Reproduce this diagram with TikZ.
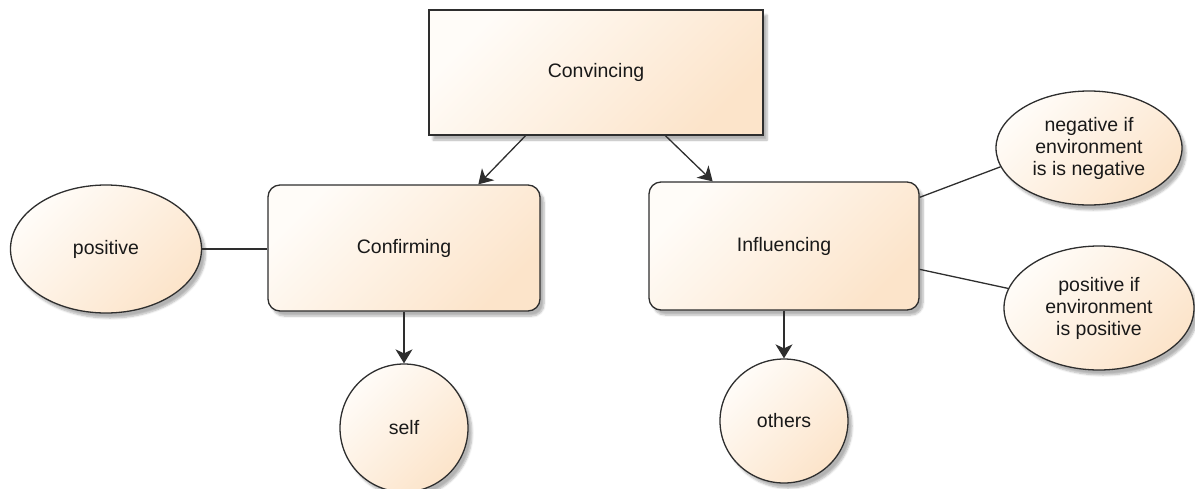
\documentclass[tikz,border=0pt]{standalone}
\usepackage{fontspec}
\setmainfont{Liberation Sans}
\usetikzlibrary{arrows.meta,shapes.geometric,shadows.blur,calc}
\definecolor{peachA}{HTML}{FFFCF8}
\definecolor{peachB}{HTML}{FCE4CA}
\definecolor{edge}{HTML}{2E2E2E}
\begin{document}
\begin{tikzpicture}[x=1pt,y=-1pt,
  base/.style={draw=edge, line width=1.3pt, top color=peachA, bottom color=peachB, shading angle=45,
    inner sep=0pt, align=center, text=black!90, font=\fontsize{19.5}{22}\selectfont,
    blur shadow={shadow xshift=4pt, shadow yshift=-5pt, shadow blur steps=6, shadow opacity=30}},
  sqbox/.style={base, rectangle},
  rbox/.style={base, rectangle, rounded corners=12pt},
  oval/.style={base, ellipse},
  link/.style={draw=edge, line width=1.3pt},
  arr/.style={link, -{Stealth[length=14pt,width=17pt,inset=4pt]}}]
\useasboundingbox (0,0) rectangle (1195,488);

\node[sqbox, minimum width=334pt, minimum height=125pt] (conv) at (596,72.5) {Convincing};
\node[rbox, minimum width=272pt, minimum height=126pt] (conf) at (404,248) {Confirming};
\node[rbox, minimum width=270pt, minimum height=128pt] (infl) at (784,246) {Influencing};
\node[oval, minimum width=191pt, minimum height=128pt] (pos) at (106,249) {positive};
\node[oval, minimum width=128pt, minimum height=128pt] (self) at (404,428) {self};
\node[oval, minimum width=128pt, minimum height=124pt] (oth) at (784,421) {others};
\node[oval, minimum width=186pt, minimum height=114pt] (neg) at (1089,148) {negative if\\environment\\is is negative};
\node[oval, minimum width=190pt, minimum height=124pt] (posif) at (1099,308) {positive if\\environment\\is positive};

\draw[arr] ($(conv.south west)!0.29!(conv.south east)$) -- ($(conf.north west)!0.772!(conf.north east)$);
\draw[arr] ($(conv.south west)!0.707!(conv.south east)$) -- ($(infl.north west)!0.237!(infl.north east)$);
\draw[link] (pos.east) -- (pos.east -| conf.west);
\draw[arr] (conf.south) -- (self.north);
\draw[arr] (infl.south) -- (oth.north);
\draw[link] ($(infl.north east)+(0,16)$) -- (neg.192);
\draw[link] ($(infl.north east)+(0,88)$) -- (posif);
\end{tikzpicture}
\end{document}
